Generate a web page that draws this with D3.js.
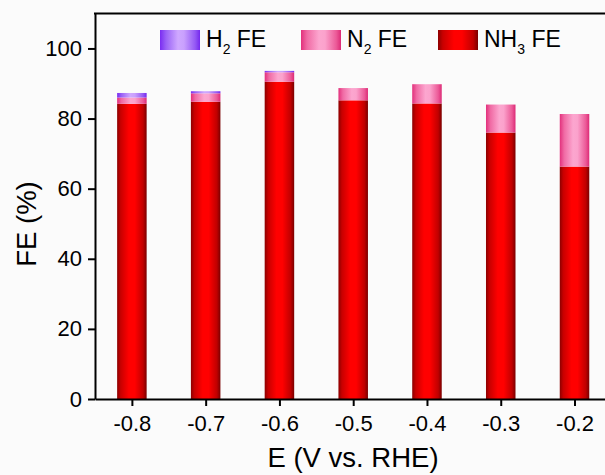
<!DOCTYPE html>
<html>
<head>
<meta charset="utf-8">
<script src="https://cdn.jsdelivr.net/npm/d3@7"></script>
<style>
  html, body { margin: 0; padding: 0; background: #fbfbfb; }
  svg { display: block; font-family: Arial, "Liberation Sans", sans-serif; }
</style>
</head>
<body>
<svg id="chart" width="605" height="475"></svg>
<script>
// Applied potentials (V vs. RHE)
const potentials = [-0.8, -0.7, -0.6, -0.5, -0.4, -0.3, -0.2];
// Faradaic efficiencies (%) stacked bottom to top
const nh3FE = [84.2, 84.8, 90.5, 85.2, 84.3, 76.0, 66.3];
const n2FE  = [1.8, 2.4, 2.7, 3.5, 5.5, 8.0, 15.0];
const h2FE  = [1.3, 0.6, 0.4, 0.0, 0.0, 0.0, 0.0];

const xTicks = [-0.8, -0.7, -0.6, -0.5, -0.4, -0.3, -0.2];
const yTicks = [0, 20, 40, 60, 80, 100];

const seriesKeys = ["nh3", "n2", "h2"];
const legendKeys = ["h2", "n2", "nh3"];
const legendLabels = { h2: ["H", "2", " FE"], n2: ["N", "2", " FE"], nh3: ["NH", "3", " FE"] };

const svg = d3.select("#chart");

const x = d3.scaleLinear().domain([-0.85, -0.15]).range([95, 611.4]);
const y = d3.scaleLinear().domain([0, 110]).range([399, 13.4]);
const barW = x(-0.8 + 0.04) - x(-0.8);

// Horizontal shading gives each bar a rounded, cylinder look
const defs = svg.append("defs");
const shades = {
  nh3: [["0%", "#8c0000"], ["12%", "#c80000"], ["40%", "#ff0000"], ["60%", "#ff0000"], ["88%", "#c00000"], ["100%", "#7a0000"]],
  n2:  [["0%", "#e2307c"], ["15%", "#f06aa4"], ["45%", "#fca6cf"], ["60%", "#fba2cc"], ["88%", "#ec5a98"], ["100%", "#dc2a76"]],
  h2:  [["0%", "#7a2cf2"], ["15%", "#9a62f6"], ["45%", "#cfa8ff"], ["60%", "#c9a0fd"], ["88%", "#9458f4"], ["100%", "#7428ee"]]
};
Object.entries(shades).forEach(([k, stops]) => {
  const g = defs.append("linearGradient").attr("id", "grad-" + k)
    .attr("x1", "0%").attr("x2", "100%").attr("y1", "0%").attr("y2", "0%");
  stops.forEach(([o, c]) => g.append("stop").attr("offset", o).attr("stop-color", c));
});

const rows = potentials.map((p, i) => ({ p, nh3: nh3FE[i], n2: n2FE[i], h2: h2FE[i] }));
const stacked = d3.stack().keys(seriesKeys)(rows);

svg.append("g").selectAll("g")
  .data(stacked)
  .join("g")
  .attr("fill", d => `url(#grad-${d.key})`)
  .selectAll("rect")
  .data(d => d.filter(s => s[1] - s[0] > 0))
  .join("rect")
  .attr("x", d => x(d.data.p) - barW / 2)
  .attr("width", barW)
  .attr("y", d => y(d[1]))
  .attr("height", d => y(d[0]) - y(d[1]));

// Axes (plain hyphen-minus for negative tick labels)
const fmt = d => d3.format(".1f")(d).replace("\u2212", "-");
const xAxis = svg.append("g").attr("transform", `translate(0,${y(0)})`)
  .call(d3.axisBottom(x).tickValues(xTicks).tickSize(7).tickSizeOuter(0).tickFormat(fmt));
const yAxis = svg.append("g").attr("transform", `translate(${x(-0.85)},0)`)
  .call(d3.axisLeft(y).tickValues(yTicks).tickSize(7).tickSizeOuter(0));

[xAxis, yAxis].forEach(a => {
  a.select(".domain").attr("stroke", "#000").attr("stroke-width", 2);
  a.selectAll(".tick line").attr("stroke", "#000").attr("stroke-width", 2);
  a.selectAll(".tick text").attr("fill", "#000").attr("font-size", 22)
    .attr("font-family", "Arial, 'Liberation Sans', sans-serif");
});
xAxis.selectAll(".tick text").attr("y", 16).attr("dy", "0.71em");
yAxis.selectAll(".tick text").attr("x", -13);

// Top frame line
svg.append("line")
  .attr("x1", x(-0.85) - 1).attr("x2", 605)
  .attr("y1", y(110)).attr("y2", y(110))
  .attr("stroke", "#000").attr("stroke-width", 2);

// Axis titles
svg.append("text")
  .attr("x", 353).attr("y", 467)
  .attr("text-anchor", "middle").attr("font-size", 27.5).attr("fill", "#000")
  .text("E (V vs. RHE)");
svg.append("text")
  .attr("transform", "translate(36,224) rotate(-90)")
  .attr("text-anchor", "middle").attr("font-size", 27.5).attr("fill", "#000")
  .text("FE (%)");

// Legend
const legendX = { h2: 160, n2: 301, nh3: 438 };
const legend = svg.append("g");
legendKeys.forEach(k => {
  const g = legend.append("g").attr("transform", `translate(${legendX[k]},30)`);
  g.append("rect").attr("width", 40).attr("height", 20).attr("fill", `url(#grad-${k})`);
  const t = g.append("text").attr("x", 46).attr("y", 16.7).attr("font-size", 23).attr("fill", "#000");
  const [main, sub, rest] = legendLabels[k];
  t.append("tspan").text(main);
  t.append("tspan").attr("font-size", 14).attr("dy", 7.5).text(sub);
  t.append("tspan").attr("dy", -7.5).text(rest);
});
</script>
</body>
</html>
